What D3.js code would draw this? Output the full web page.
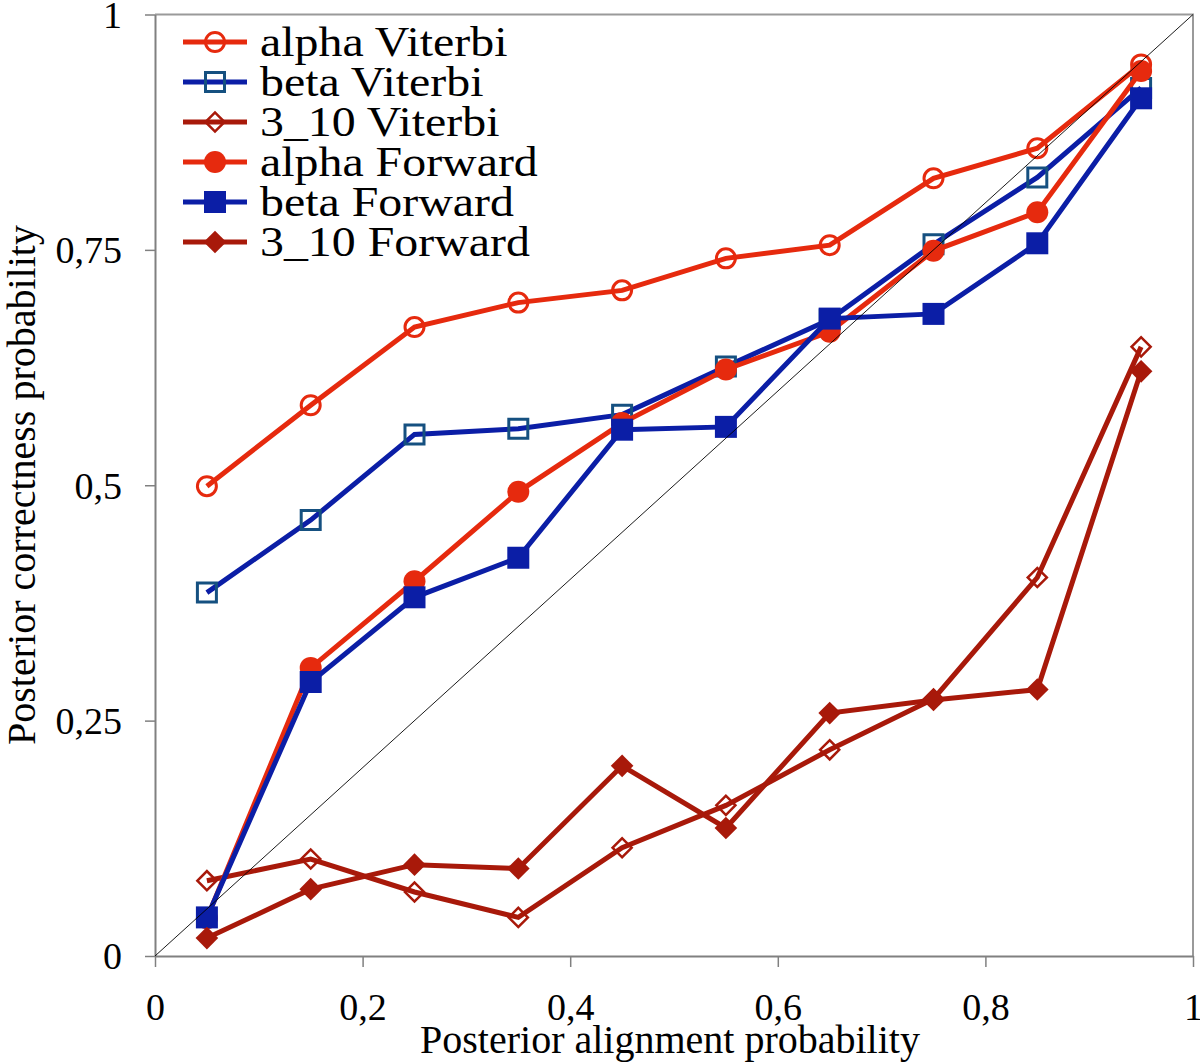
<!DOCTYPE html>
<html><head><meta charset="utf-8">
<script src="https://cdn.jsdelivr.net/npm/d3@7/dist/d3.min.js"></script>
<style>body{margin:0;background:#fff}</style>
</head><body>
<svg id="c" width="1200" height="1064"></svg>
<script>
const xs = [0.05,0.15,0.25,0.35,0.45,0.55,0.65,0.75,0.85,0.95];
const alphaViterbi = [0.499,0.585,0.668,0.694,0.707,0.741,0.755,0.826,0.858,0.947];
const betaViterbi = [0.386,0.463,0.554,0.560,0.575,0.626,0.676,0.756,0.827,0.922];
const t310Viterbi = [0.080,0.103,0.068,0.041,0.115,0.160,0.219,0.273,0.402,0.647];
const alphaForward = [0.040,0.306,0.398,0.493,0.566,0.623,0.663,0.749,0.790,0.940];
const betaForward = [0.041,0.291,0.381,0.423,0.559,0.562,0.677,0.682,0.757,0.911];
const t310Forward = [0.019,0.071,0.097,0.093,0.202,0.136,0.258,0.272,0.283,0.621];
const seriesNames = ["alpha Viterbi","beta Viterbi","3_10 Viterbi","alpha Forward","beta Forward","3_10 Forward"];
const xTicks = [0,0.2,0.4,0.6,0.8,1];
const yTicks = [0,0.25,0.5,0.75,1];
const xTitle = "Posterior alignment probability";
const yTitle = "Posterior correctness probability";

const RED="#e62a0e", BLUE="#0b1ea6", SQ="#155080", DRED="#a8190a";
const series = [
  {name:seriesNames[0], vals:alphaViterbi, color:RED, shape:"circle", filled:false},
  {name:seriesNames[1], vals:betaViterbi, color:BLUE, mcolor:SQ, shape:"square", filled:false},
  {name:seriesNames[2], vals:t310Viterbi, color:DRED, shape:"diamond", filled:false},
  {name:seriesNames[3], vals:alphaForward, color:RED, shape:"circle", filled:true},
  {name:seriesNames[4], vals:betaForward, color:BLUE, shape:"square", filled:true},
  {name:seriesNames[5], vals:t310Forward, color:DRED, shape:"diamond", filled:true}
];

const svg = d3.select("#c");
const x = d3.scaleLinear().domain([0,1]).range([155,1193]);
const y = d3.scaleLinear().domain([0,1]).range([956,14.5]);
const fmt = d => String(d).replace(".", ",");
const FONT = "'Liberation Serif','Times New Roman',serif";

// frame top/right
svg.append("path").attr("d", `M${x(0)},${y(1)}H${x(1)}V${y(0)}`)
  .attr("fill","none").attr("stroke","#9a9a9a").attr("stroke-width",2);

// axes
const gx = svg.append("g").attr("transform",`translate(0,${y(0)})`)
  .call(d3.axisBottom(x).tickValues(xTicks).tickFormat(fmt).tickSize(11).tickSizeOuter(0).tickPadding(26));
const gy = svg.append("g").attr("transform",`translate(${x(0)},0)`)
  .call(d3.axisLeft(y).tickValues(yTicks).tickFormat(fmt).tickSize(10).tickSizeOuter(0).tickPadding(23));
[gx,gy].forEach(g=>{
  g.select(".domain").attr("stroke","#808080").attr("stroke-width",2);
  g.selectAll(".tick line").attr("stroke","#808080").attr("stroke-width",1.5);
  g.selectAll(".tick text").attr("font-family",FONT).attr("font-size",38).attr("fill","#000");
});
gx.selectAll(".tick text").attr("dy","0.71em");
gy.selectAll(".tick text").attr("dy","0.34em");

function markerPath(shape, filled){
  if(shape==="circle") return d3.symbol(d3.symbolCircle, filled? Math.PI*11*11 : Math.PI*9.5*9.5)();
  if(shape==="square") return d3.symbol(d3.symbolSquare, filled? 22*22 : 19*19)();
  return d3.symbol(d3.symbolSquare, filled? 16*16 : 13.5*13.5)();
}
function drawMarker(g, s, cx, cy){
  const p = g.append("path").attr("d", markerPath(s.shape, s.filled))
    .attr("transform", `translate(${cx},${cy})` + (s.shape==="diamond"?" rotate(45)":""));
  const mc = s.mcolor || s.color;
  if(s.filled) p.attr("fill", mc).attr("stroke","none");
  else p.attr("fill","none").attr("stroke", mc).attr("stroke-width", s.shape==="diamond"?2.5:3);
}

const line = d3.line().x((d,i)=>x(xs[i])).y(d=>y(d));
series.forEach(s=>{
  const g = svg.append("g");
  g.append("path").attr("d", line(s.vals)).attr("fill","none").attr("stroke", s.color)
    .attr("stroke-width",5).attr("stroke-linejoin","miter");
  s.vals.forEach((v,i)=>drawMarker(g, s, x(xs[i]), y(v)));
});

// diagonal
svg.append("line").attr("x1",x(0)).attr("y1",y(0)).attr("x2",x(1)).attr("y2",y(1))
  .attr("stroke","#000").attr("stroke-width",0.9);

// legend
const lg = svg.append("g");
series.forEach((s,i)=>{
  const cy = 42 + i*40;
  const g = lg.append("g");
  g.append("line").attr("x1",183).attr("x2",247).attr("y1",cy).attr("y2",cy)
    .attr("stroke",s.color).attr("stroke-width",5);
  drawMarker(g, s, 215, cy);
  g.append("text").attr("transform",`translate(260,${cy+14}) scale(1.14,1)`)
    .attr("font-family",FONT).attr("font-size",42).attr("fill","#000").text(s.name);
});

// titles
svg.append("text").attr("x",670).attr("y",1053).attr("text-anchor","middle")
  .attr("font-family",FONT).attr("font-size",40).attr("fill","#000").text(xTitle);
svg.append("text").attr("transform","translate(35,485) rotate(-90)").attr("text-anchor","middle")
  .attr("font-family",FONT).attr("font-size",40).attr("fill","#000").text(yTitle);
</script>
</body></html>
